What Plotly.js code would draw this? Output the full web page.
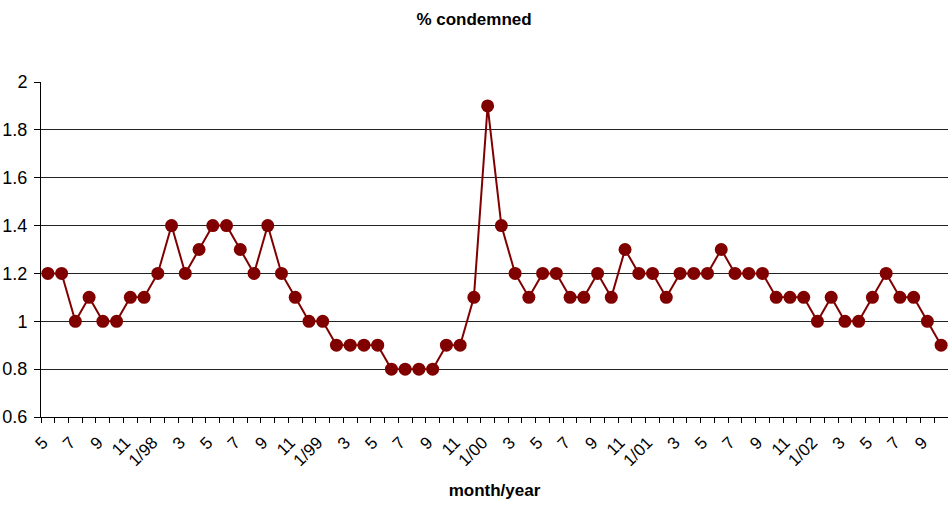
<!DOCTYPE html>
<html>
<head>
<meta charset="utf-8">
<script src="https://cdn.plot.ly/plotly-3.0.1.min.js"></script>
<style>html,body{margin:0;padding:0;background:#fff}#chart{width:948px;height:505px}</style>
</head>
<body>
<div id="chart"></div>
<script>
var months = ["5/97","6/97","7/97","8/97","9/97","10/97","11/97","12/97",
  "1/98","2/98","3/98","4/98","5/98","6/98","7/98","8/98","9/98","10/98","11/98","12/98",
  "1/99","2/99","3/99","4/99","5/99","6/99","7/99","8/99","9/99","10/99","11/99","12/99",
  "1/00","2/00","3/00","4/00","5/00","6/00","7/00","8/00","9/00","10/00","11/00","12/00",
  "1/01","2/01","3/01","4/01","5/01","6/01","7/01","8/01","9/01","10/01","11/01","12/01",
  "1/02","2/02","3/02","4/02","5/02","6/02","7/02","8/02","9/02","10/02"];
var condemned = [1.2,1.2,1.0,1.1,1.0,1.0,1.1,1.1,
  1.2,1.4,1.2,1.3,1.4,1.4,1.3,1.2,1.4,1.2,1.1,1.0,
  1.0,0.9,0.9,0.9,0.9,0.8,0.8,0.8,0.8,0.9,0.9,1.1,
  1.9,1.4,1.2,1.1,1.2,1.2,1.1,1.1,1.2,1.1,1.3,1.2,
  1.2,1.1,1.2,1.2,1.2,1.3,1.2,1.2,1.2,1.1,1.1,1.1,
  1.0,1.1,1.0,1.0,1.1,1.2,1.1,1.1,1.0,0.9];
var tickMonths = ["5/97","7/97","9/97","11/97","1/98","3/98","5/98","7/98","9/98","11/98",
  "1/99","3/99","5/99","7/99","9/99","11/99","1/00","3/00","5/00","7/00","9/00","11/00",
  "1/01","3/01","5/01","7/01","9/01","11/01","1/02","3/02","5/02","7/02","9/02"];
var tickLabels = ["5","7","9","11","1/98","3","5","7","9","11",
  "1/99","3","5","7","9","11","1/00","3","5","7","9","11",
  "1/01","3","5","7","9","11","1/02","3","5","7","9"];

var xIdx = months.map(function(m, i){ return i; });
var tickIdx = tickMonths.map(function(m){ return months.indexOf(m); });

var trace = {
  x: xIdx, y: condemned, text: months, type: 'scatter', mode: 'lines+markers',
  line: {color: '#800000', width: 2},
  marker: {color: '#800000', size: 13},
  hovertemplate: '%{text}: %{y}<extra></extra>'
};

var FONT = 'Liberation Sans, Arial, sans-serif';
var layout = {
  width: 948, height: 505,
  margin: {l: 41, r: 0, t: 82, b: 88},
  paper_bgcolor: '#fff', plot_bgcolor: '#fff',
  font: {family: FONT, color: '#000'},
  showlegend: false,
  title: {text: '<b>% condemned</b>', x: 0.5, xref: 'container', y: 1 - 19/505, yref: 'container', yanchor: 'middle',
          font: {size: 17, family: FONT, color: '#000'}},
  xaxis: {
    range: [-0.5, months.length - 0.5], type: 'linear',
    tickmode: 'array', tickvals: tickIdx, ticktext: tickLabels,
    tickangle: -45, ticks: '', tickfont: {size: 17},
    ticklabelstandoff: 8, ticklabelshift: -5,
    showgrid: false, zeroline: false,
    showline: true, linecolor: '#000', linewidth: 1,
    minor: {tickmode: 'linear', tick0: -0.5, dtick: 1, ticks: 'outside', ticklen: 5, tickcolor: '#000', tickwidth: 1, showgrid: false},
    title: {text: '<b>month/year</b>', font: {size: 17}, standoff: 14},
    automargin: false
  },
  yaxis: {
    range: [0.6, 2], tickmode: 'linear', tick0: 0.6, dtick: 0.2,
    ticks: 'outside', ticklen: 6, tickcolor: '#000', tickfont: {size: 18},
    ticklabelstandoff: 3,
    showgrid: true, gridcolor: '#222', gridwidth: 1,
    zeroline: false, showline: true, linecolor: '#000', linewidth: 1,
    automargin: false
  }
};

Plotly.newPlot('chart', [trace], layout, {staticPlot: true, displayModeBar: false});
</script>
</body>
</html>
